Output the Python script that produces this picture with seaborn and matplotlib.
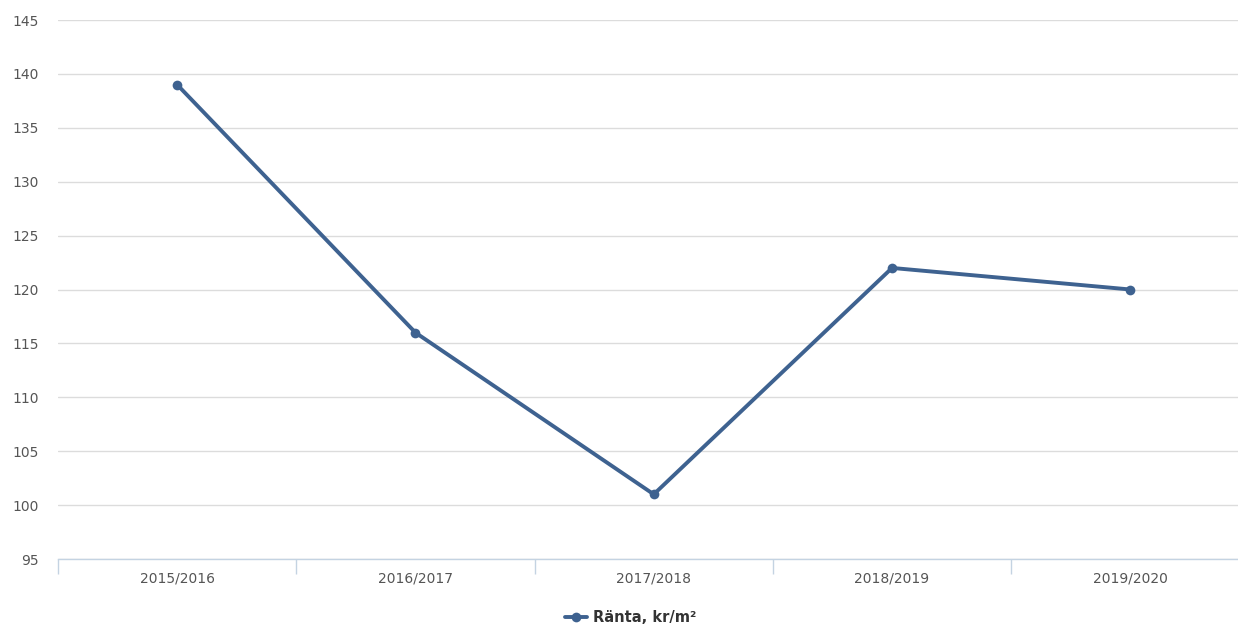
import pandas as pd
import seaborn as sns
import matplotlib.pyplot as plt

# data
perioder = ["2015/2016", "2016/2017", "2017/2018", "2018/2019", "2019/2020"]
ranta = [139, 116, 101, 122, 120]
serie_namn = "Ränta, kr/m²"

df = pd.DataFrame({"period": perioder, "ranta": ranta})
df["pos"] = range(len(perioder))

sns.set_style("white")
plt.rcParams["font.family"] = ["DejaVu Sans"]

fig = plt.figure(figsize=(12.38, 6.26), dpi=100)
ax = fig.add_axes([58 / 1238, 67 / 626, (1249.5 - 58) / 1238, (559 - 20) / 626])

linjefarg = "#3e6290"
sns.lineplot(data=df, x="pos", y="ranta", ax=ax, color=linjefarg, linewidth=2.8,
             marker="o", markersize=7, markeredgewidth=0, label=serie_namn)

ax.set_xlim(-0.5, len(perioder) - 0.5)
ax.set_ylim(95, 145)
ax.set_yticks(range(95, 146, 5))
ax.set_xticks(df["pos"])
ax.set_xticklabels(perioder)
ax.set_xticks([i - 0.5 for i in range(len(perioder) + 1)], minor=True)
ax.tick_params(axis="x", which="major", bottom=True, length=0, pad=9, labelsize=10, labelcolor="#555555")
ax.tick_params(axis="x", which="minor", bottom=True, length=11, width=1, color="#c4d3e2")
ax.tick_params(axis="y", length=0, pad=14, labelsize=10, labelcolor="#555555")

ax.grid(axis="y", color="#dcdcdc", linewidth=1)
ax.set_axisbelow(True)
for s in ["top", "right", "left"]:
    ax.spines[s].set_visible(False)
ax.spines["bottom"].set_color("#c4d3e2")
ax.spines["bottom"].set_linewidth(1)
ax.spines["bottom"].set_zorder(3)
ax.set_xlabel("")
ax.set_ylabel("")

leg = ax.legend(loc="center", bbox_to_anchor=(631 / 1238, 8 / 626),
                bbox_transform=fig.transFigure, frameon=False,
                handlelength=1.5, handletextpad=0.4, prop={"weight": "bold", "size": 10.5})
for t in leg.get_texts():
    t.set_color("#333333")

fig.savefig("out.png", dpi=100)
